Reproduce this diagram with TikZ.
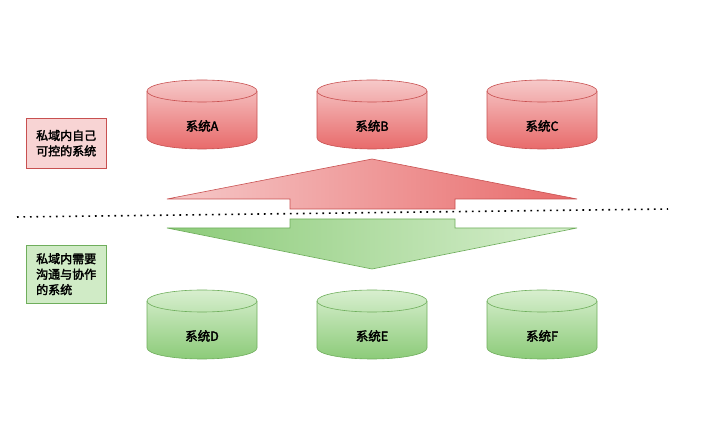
\documentclass[tikz,border=0pt]{standalone}
\usepackage{fontspec}
\newfontfamily\cjk{Noto Sans CJK SC}[AutoFakeBold=2.5]
\definecolor{rl}{HTML}{F6C9C9}
\definecolor{rd}{HTML}{E86A6A}
\definecolor{rline}{HTML}{C85050}
\definecolor{gl}{HTML}{D8EFCF}
\definecolor{gd}{HTML}{8CCB79}
\definecolor{gline}{HTML}{6FAE5C}
\tikzset{lbl/.style={font=\cjk\bfseries\fontsize{12.5}{15}\selectfont,text=black},
boxlbl/.style={font=\cjk\bfseries\fontsize{12}{15.5}\selectfont,text=black}}
\begin{document}
\begin{tikzpicture}[x=1pt,y=-1pt]
\useasboundingbox (0,0) rectangle (713,438);
% cylinders
\foreach \n/\x/\y/\t/\cl/\cd/\ln in {a/147/80/系统A/rl/rd/rline, b/317/80/系统B/rl/rd/rline, c/487/80/系统C/rl/rd/rline, d/147/290/系统D/gl/gd/gline, e/317/290/系统E/gl/gd/gline, f/487/290/系统F/gl/gd/gline}{
  \shade[top color=\cl, bottom color=\cd, draw=\ln, line width=0.6pt]
    (\x,\y+11) -- (\x,\y+58) arc[start angle=180,end angle=0,x radius=55,y radius=11] -- (\x+110,\y+11) arc[start angle=0,end angle=-180,x radius=55,y radius=11] -- cycle;
  \draw[\ln, line width=0.6pt] (\x,\y+11) arc[start angle=180,end angle=0,x radius=55,y radius=11];
  \node[lbl] (\n) at (\x+55,\y+46) {\t};
}
% up arrow
\shade[left color=rl, right color=rd, draw=rline, line width=0.6pt]
  (167,199) -- (372,159) -- (577,199) -- (455,199) -- (455,209) -- (290,209) -- (290,199) -- cycle;
% down arrow
\shade[left color=gd, right color=gl, draw=gline, line width=0.6pt]
  (167,228) -- (372,269) -- (577,228) -- (455,228) -- (455,219) -- (290,219) -- (290,228) -- cycle;
% dotted line
\coordinate (l1) at (17,217);
\coordinate (l2) at (668,209);
\draw[line width=1.6pt, dash pattern=on 1.6pt off 4.9pt] (l1) -- (l2);
% label boxes
\node[draw=rline, fill=rl!80, minimum width=80pt, minimum height=50pt, inner sep=2pt, boxlbl, align=left, anchor=north west] (p) at (26,118) {私域内自己\\可控的系统};
\node[draw=gline, fill=gl!90!gd, minimum width=80pt, minimum height=58pt, inner sep=2pt, boxlbl, align=left, anchor=north west] (q) at (26,245) {私域内需要\\沟通与协作\\的系统};
\end{tikzpicture}
\end{document}
